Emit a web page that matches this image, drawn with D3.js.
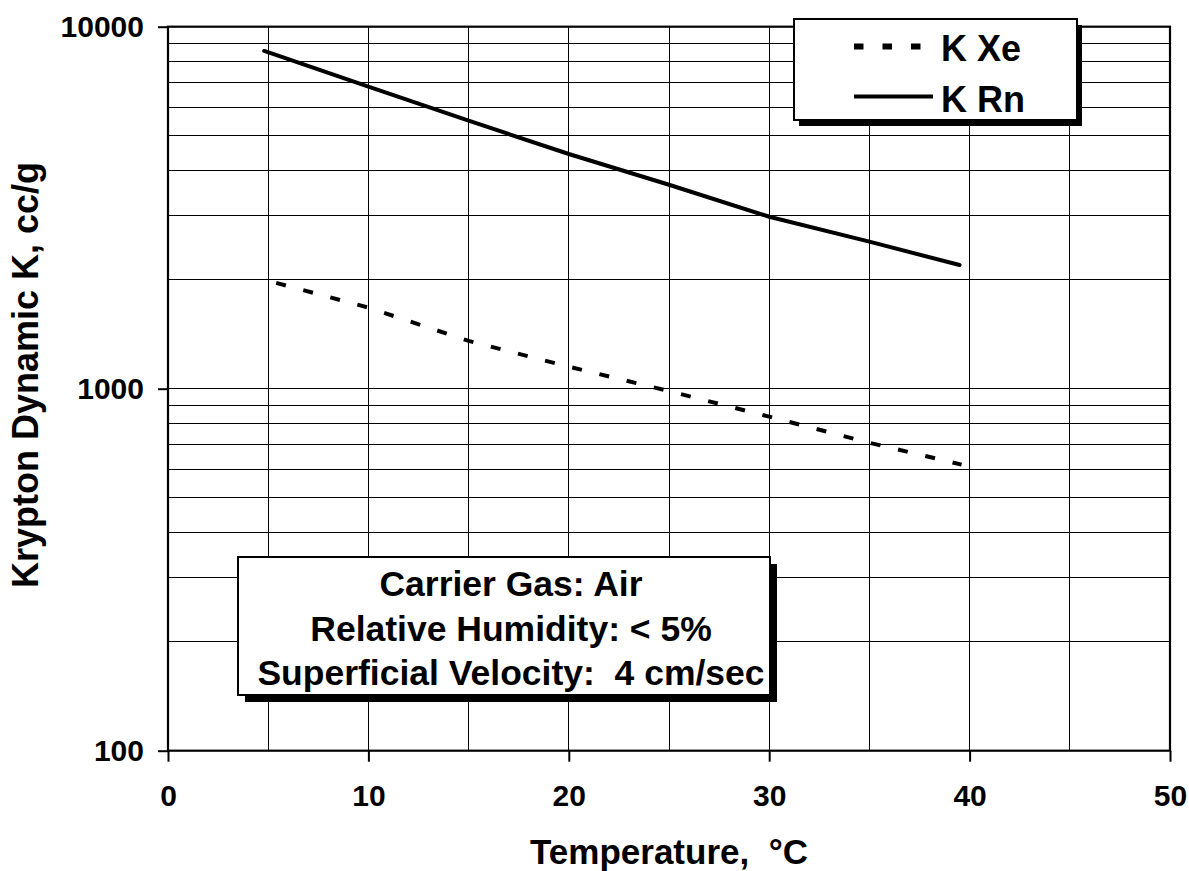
<!DOCTYPE html>
<html>
<head>
<meta charset="utf-8">
<script src="https://cdn.jsdelivr.net/npm/d3@7"></script>
<style>
  html, body { margin: 0; padding: 0; background: #fff; }
  svg { display: block; font-family: "Liberation Sans", Arial, Helvetica, sans-serif; font-weight: bold; }
  text.pre { white-space: pre; }
</style>
</head>
<body>
<svg id="chart" width="1189" height="871"></svg>
<script>
// Krypton dynamic adsorption coefficient versus bed temperature
const temperatureXe = [5.4, 10, 15, 20, 25, 30, 35, 39.6];
const kXe = [1960, 1675, 1355, 1150, 985, 837, 709, 617];

const temperatureRn = [4.8, 10, 15, 20, 25, 30, 35, 39.5];
const kRn = [8570, 6830, 5500, 4450, 3660, 2986, 2548, 2196];

const xTicks = [0, 10, 20, 30, 40, 50];
const xGrid = [5, 10, 15, 20, 25, 30, 35, 40, 45];
const yTicks = [100, 1000, 10000];
const yGrid = [200, 300, 400, 500, 600, 700, 800, 900, 1000,
               2000, 3000, 4000, 5000, 6000, 7000, 8000, 9000];

const seriesNames = ["K Xe", "K Rn"];
const noteLines = ["Carrier Gas: Air", "Relative Humidity: < 5%", "Superficial Velocity:  4 cm/sec"];
const xTitle = "Temperature,  °C";
const yTitle = "Krypton Dynamic K, cc/g";

const svg = d3.select("#chart");
const plotLeft = 168, plotRight = 1170, plotTop = 26.7, plotBottom = 750.7;

const x = d3.scaleLinear().domain([0, 50]).range([plotLeft, plotRight]);
const y = d3.scaleLog().domain([100, 10000]).range([plotBottom, plotTop]);

// grid
const grid = svg.append("g").attr("stroke", "#000").attr("shape-rendering", "crispEdges");
grid.selectAll("line.h").data(yGrid).join("line").attr("class", "h")
  .attr("x1", plotLeft).attr("x2", plotRight)
  .attr("y1", d => y(d)).attr("y2", d => y(d))
  .attr("stroke-width", 1);
grid.selectAll("line.v").data(xGrid).join("line").attr("class", "v")
  .attr("x1", d => x(d)).attr("x2", d => x(d))
  .attr("y1", plotTop).attr("y2", plotBottom)
  .attr("stroke-width", 1);

// plot frame
svg.append("rect")
  .attr("x", plotLeft).attr("y", plotTop)
  .attr("width", plotRight - plotLeft).attr("height", plotBottom - plotTop)
  .attr("fill", "none").attr("stroke", "#000").attr("stroke-width", 2.2);

// axes
const xAxis = d3.axisBottom(x).tickValues(xTicks).tickFormat(d3.format("d"))
  .tickSize(11).tickPadding(25);
const gx = svg.append("g").attr("transform", `translate(0,${plotBottom})`).call(xAxis);
gx.select(".domain").remove();
gx.selectAll(".tick line").attr("stroke", "#000").attr("stroke-width", 2);
gx.selectAll(".tick text").attr("fill", "#000").attr("font-size", 30).attr("font-weight", "bold")
  .attr("dy", "0.66em");

const yAxis = d3.axisLeft(y).tickValues(yTicks).tickFormat(d3.format("d"))
  .tickSize(10).tickPadding(14);
const gy = svg.append("g").attr("transform", `translate(${plotLeft},0)`).call(yAxis);
gy.select(".domain").remove();
gy.selectAll(".tick line").attr("stroke", "#000").attr("stroke-width", 2);
gy.selectAll(".tick text").attr("fill", "#000").attr("font-size", 30).attr("font-weight", "bold");

// axis titles
svg.append("text").attr("class", "pre")
  .attr("x", (plotLeft + plotRight) / 2).attr("y", 864)
  .attr("text-anchor", "middle").attr("font-size", 35)
  .text(xTitle);
svg.append("text")
  .attr("transform", `translate(38,375) rotate(-90)`)
  .attr("text-anchor", "middle").attr("font-size", 36)
  .text(yTitle);

// data lines
const line = d3.line().x(d => x(d[0])).y(d => y(d[1]));
const xeData = d3.zip(temperatureXe, kXe);
const rnData = d3.zip(temperatureRn, kRn);

svg.append("path").datum(xeData)
  .attr("d", line).attr("fill", "none").attr("stroke", "#000")
  .attr("stroke-width", 4).attr("stroke-dasharray", "10,18");
svg.append("path").datum(rnData)
  .attr("d", line).attr("fill", "none").attr("stroke", "#000")
  .attr("stroke-width", 4).attr("stroke-linecap", "round");

// legend
const lg = svg.append("g");
lg.append("rect").attr("x", 799).attr("y", 25).attr("width", 283).attr("height", 101).attr("fill", "#000");
lg.append("rect").attr("x", 794).attr("y", 19).attr("width", 283).attr("height", 101)
  .attr("fill", "#fff").attr("stroke", "#000").attr("stroke-width", 2);
lg.append("line").attr("x1", 854).attr("x2", 932).attr("y1", 46.5).attr("y2", 46.5)
  .attr("stroke", "#000").attr("stroke-width", 6).attr("stroke-dasharray", "9.5,19");
lg.append("line").attr("x1", 854).attr("x2", 933).attr("y1", 96.5).attr("y2", 96.5)
  .attr("stroke", "#000").attr("stroke-width", 4);
lg.selectAll("text").data(seriesNames).join("text")
  .attr("x", 941).attr("y", (d, i) => 61 + i * 50.5)
  .attr("font-size", 36).text(d => d);

// test conditions note
const ng = svg.append("g");
ng.append("rect").attr("x", 245).attr("y", 564).attr("width", 532).attr("height", 138).attr("fill", "#000");
ng.append("rect").attr("x", 238).attr("y", 557).attr("width", 532).attr("height", 138)
  .attr("fill", "#fff").attr("stroke", "#000").attr("stroke-width", 2);
ng.selectAll("text").data(noteLines).join("text").attr("class", "pre")
  .attr("x", 511).attr("y", (d, i) => 596 + i * 44.5)
  .attr("text-anchor", "middle").attr("font-size", 35.5)
  .text(d => d);
</script>
</body>
</html>
